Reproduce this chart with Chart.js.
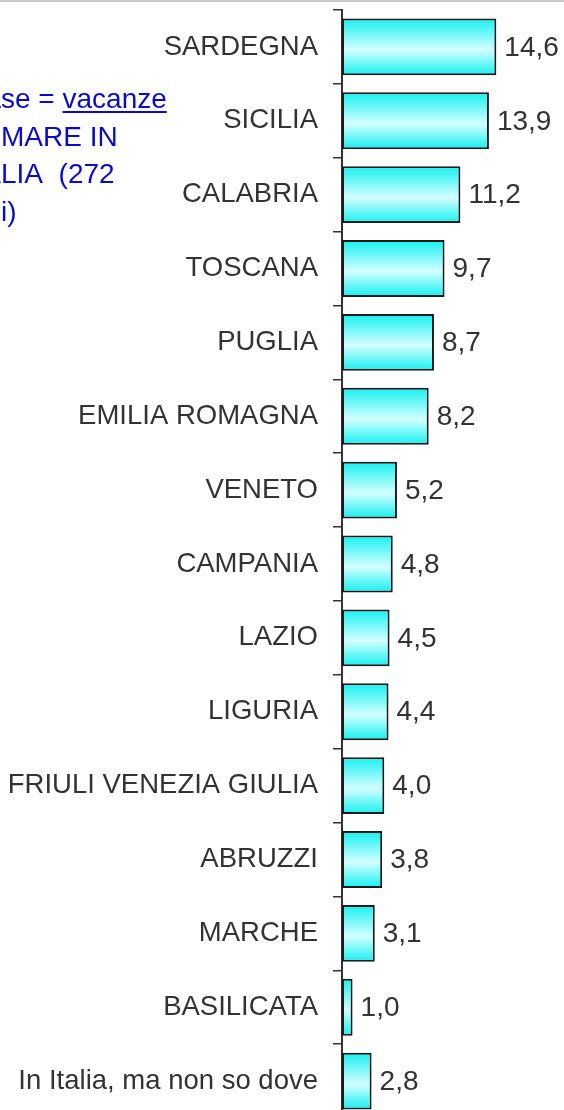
<!DOCTYPE html>
<html>
<head>
<meta charset="utf-8">
<script src="https://cdn.jsdelivr.net/npm/chart.js@4/dist/chart.umd.min.js"></script>
<style>
  html, body { margin: 0; padding: 0; background: #ffffff; overflow: hidden; }
  #chart { display: block; }
</style>
</head>
<body>
<canvas id="chart" width="564" height="1120"></canvas>
<script>
// Regions and percentages
const regions = [
    'SARDEGNA', 'SICILIA', 'CALABRIA', 'TOSCANA', 'PUGLIA', 'EMILIA ROMAGNA',
    'VENETO', 'CAMPANIA', 'LAZIO', 'LIGURIA', 'FRIULI VENEZIA GIULIA',
    'ABRUZZI', 'MARCHE', 'BASILICATA', 'In Italia, ma non so dove'
];
const percentages = [14.6, 13.9, 11.2, 9.7, 8.7, 8.2, 5.2, 4.8, 4.5, 4.4, 4.0, 3.8, 3.1, 1.0, 2.8];

// Note text in the top left corner (partly cut off by the frame)
const noteLines = ['Base = vacanze', 'AL MARE IN', 'ITALIA  (272', 'casi)'];
const noteHidden = ['Ba', 'AL ', 'ITA', 'cas'];

const FONT = '"Liberation Sans", Arial, sans-serif';
const BAR_PCT = 0.77;

// Vertical cyan-white-cyan gradient for each bar
function barGradient(ctx) {
    const chart = ctx.chart;
    const ys = chart.scales.y;
    if (!ys || !chart.chartArea || ctx.dataIndex === undefined) return '#40f4f4';
    const pitch = (ys.bottom - ys.top) / regions.length;
    const c = ys.getPixelForValue(ctx.dataIndex);
    const half = pitch * BAR_PCT / 2;
    const g = chart.ctx.createLinearGradient(0, c - half, 0, c + half);
    g.addColorStop(0, '#14f0f0');
    g.addColorStop(0.55, '#d4ffff');
    g.addColorStop(1, '#14f0f0');
    return g;
}

// Value labels, top frame line and note text
const decorPlugin = {
    id: 'decor',
    beforeDraw(chart) {
        const ctx = chart.ctx;
        ctx.save();
        ctx.strokeStyle = '#c8c8c8';
        ctx.lineWidth = 2;
        ctx.beginPath();
        ctx.moveTo(0, 1);
        ctx.lineTo(chart.width, 1);
        ctx.stroke();
        ctx.restore();
    },
    afterDatasetsDraw(chart) {
        const ctx = chart.ctx;
        const meta = chart.getDatasetMeta(0);
        ctx.save();
        ctx.font = '28px ' + FONT;
        ctx.fillStyle = '#333333';
        ctx.textAlign = 'left';
        ctx.textBaseline = 'middle';
        meta.data.forEach((bar, i) => {
            const txt = percentages[i].toFixed(1).replace('.', ',');
            ctx.fillText(txt, bar.x + 8, bar.y + 1);
        });
        ctx.restore();
    },
    afterDraw(chart) {
        const ctx = chart.ctx;
        ctx.save();
        ctx.font = '28px ' + FONT;
        ctx.fillStyle = '#0a0acc';
        ctx.strokeStyle = '#0a0acc';
        ctx.textAlign = 'left';
        ctx.textBaseline = 'alphabetic';
        noteLines.forEach((line, i) => {
            const x = 1 - ctx.measureText(noteHidden[i]).width;
            const y = 108 + i * 37.5;
            ctx.fillText(line, x, y);
            if (i === 0) {
                const pre = ctx.measureText('Base = ').width;
                const w = ctx.measureText('vacanze').width;
                ctx.lineWidth = 2;
                ctx.beginPath();
                ctx.moveTo(x + pre, y + 4);
                ctx.lineTo(x + pre + w, y + 4);
                ctx.stroke();
            }
        });
        ctx.restore();
    }
};

const chartCanvas = document.getElementById('chart');
const regionChart = new Chart(chartCanvas.getContext('2d'), {
    type: 'bar',
    data: {
        labels: regions,
        datasets: [{
            data: percentages,
            backgroundColor: barGradient,
            borderColor: '#1a1a1a',
            borderWidth: 2,
            borderSkipped: false,
            barPercentage: BAR_PCT,
            categoryPercentage: 1
        }]
    },
    options: {
        indexAxis: 'y',
        responsive: false,
        devicePixelRatio: 1,
        animation: false,
        layout: { padding: { top: 10, right: 0, bottom: 2, left: 0 } },
        plugins: {
            legend: { display: false },
            tooltip: { enabled: false }
        },
        scales: {
            x: {
                display: false,
                min: 0,
                max: 21
            },
            y: {
                afterFit(scale) {
                    scale.width = 342;
                    scale.paddingTop = 0;
                    scale.paddingBottom = 0;
                },
                border: { display: true, color: '#333333', width: 2 },
                grid: {
                    offset: true,
                    drawOnChartArea: false,
                    drawTicks: true,
                    tickLength: 9,
                    color: '#333333',
                    lineWidth: 1.5
                },
                ticks: {
                    color: '#333333',
                    padding: 15,
                    autoSkip: false,
                    font: { family: FONT, size: 27.5 }
                }
            }
        }
    },
    plugins: [decorPlugin]
});
</script>
</body>
</html>
